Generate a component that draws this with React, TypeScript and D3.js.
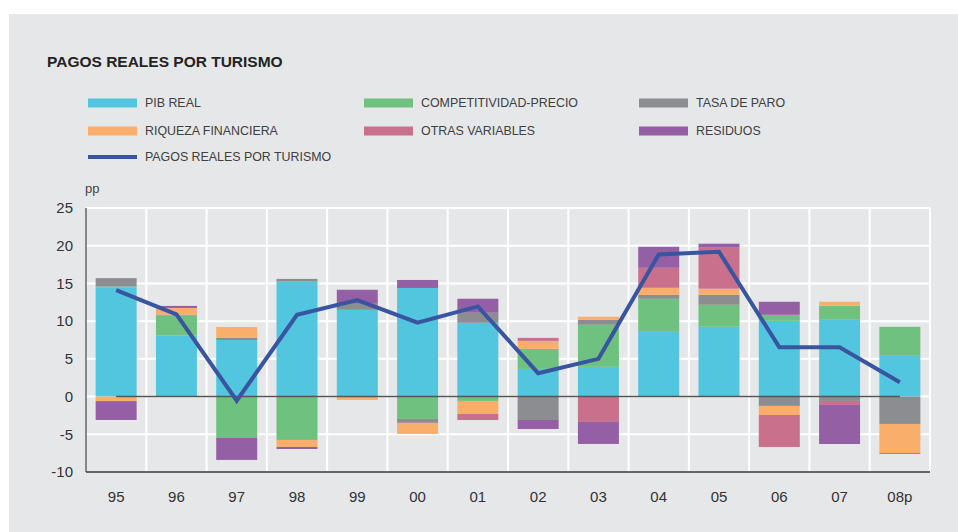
import React from "react";
import * as d3 from "d3";

const years = ["95", "96", "97", "98", "99", "00", "01", "02", "03", "04", "05", "06", "07", "08p"];

// contributions (pp)
const pibReal = [14.5, 8.1, 7.5, 15.25, 11.5, 14.4, 9.78, 3.67, 3.94, 8.58, 9.25, 10.04, 10.18, 5.4];
const competitividad = [0.1, 2.65, -5.45, -5.75, 0, -2.96, -0.58, 2.65, 5.58, 4.38, 2.92, 0.8, 1.86, 3.85];
const tasaParo = [1.1, 0.1, 0.27, 0.35, 0.8, -0.53, 1.33, -3.1, 0.66, 0.53, 1.33, -1.24, -0.58, -3.63];
const riqueza = [-0.6, 0.9, 1.45, -0.93, -0.44, -1.46, -1.73, 1.06, 0.4, 0.93, 0.8, -1.2, 0.53, -3.85];
const otras = [0, 0, 0, 0, 0, 0, -0.8, 0.4, -3.36, 2.65, 5.44, -4.25, -0.53, -0.13];
const residuos = [-2.5, 0.27, -2.95, -0.27, 1.86, 1.06, 1.86, -1.2, -2.92, 2.79, 0.53, 1.73, -5.18, 0];
const pagos = [14.1, 10.9, -0.55, 10.85, 12.8, 9.8, 11.95, 3.1, 5.0, 18.85, 19.2, 6.55, 6.55, 1.9];

const yTicks = [25, 20, 15, 10, 5, 0, -5, -10];

const series = [
  { key: "pib", label: "PIB REAL", color: "#52c5df", values: pibReal },
  { key: "comp", label: "COMPETITIVIDAD-PRECIO", color: "#6fc17f", values: competitividad },
  { key: "paro", label: "TASA DE PARO", color: "#8c8d91", values: tasaParo },
  { key: "riq", label: "RIQUEZA FINANCIERA", color: "#f9ae6b", values: riqueza },
  { key: "otras", label: "OTRAS VARIABLES", color: "#c8708c", values: otras },
  { key: "res", label: "RESIDUOS", color: "#955fa6", values: residuos },
];

const W = 958;
const H = 532;
const font = "'Liberation Sans', Arial, Helvetica, sans-serif";

export default function App() {
  const left = 86, right = 930, top = 208, bottom = 472;

  const x = d3.scaleBand<string>().domain(years).range([left, right]).paddingInner(0.32).paddingOuter(0.16);
  const y = d3.scaleLinear().domain([-10, 25]).range([bottom, top]);
  const step = x.step();

  const rows = years.map((yr, i) => {
    const r: any = { year: yr };
    series.forEach(s => (r[s.key] = s.values[i]));
    return r;
  });
  const stacked = d3.stack<any>()
    .keys(series.map(s => s.key))
    .offset(d3.stackOffsetDiverging)(rows);

  const lineGen = d3.line<number>()
    .x((_, i) => (x(years[i]) as number) + x.bandwidth() / 2)
    .y(d => y(d));

  const center = (yr: string) => (x(yr) as number) + x.bandwidth() / 2;

  // legend layout
  const legCols = [88, 364, 639];
  const legRows = [103, 131];

  return (
    <div style={{ position: "absolute", left: 0, top: 0, width: W, height: H, background: "#fff" }}>
      <svg width={W} height={H} style={{ display: "block", fontFamily: font }}>
        <rect x={9} y={14} width={W - 9} height={H - 14} fill="#e6e7e9" />
        <text x={47} y={67} fontSize={15.5} fontWeight="bold" fill="#232323">PAGOS REALES POR TURISMO</text>

        {series.map((s, i) => {
          const cx = legCols[i % 3];
          const cy = legRows[Math.floor(i / 3)];
          return (
            <g key={s.key}>
              <rect x={cx} y={cy - 4.5} width={49} height={9} fill={s.color} />
              <text x={cx + 57} y={cy} dy="0.35em" fontSize={12.4} fill="#404040">{s.label}</text>
            </g>
          );
        })}
        <line x1={88} x2={137} y1={157} y2={157} stroke="#3a55a0" strokeWidth={4} />
        <text x={145} y={157} dy="0.35em" fontSize={12.4} fill="#404040">PAGOS REALES POR TURISMO</text>

        <text x={85} y={193} fontSize={13} fill="#444">pp</text>

        {/* grid */}
        {yTicks.map(t => (
          <line key={"h" + t} x1={left} x2={right} y1={y(t)} y2={y(t)} stroke="#fff" strokeWidth={2} />
        ))}
        {years.map((yr, i) => (
          <line key={"v" + yr} x1={left + (i + 1) * step} x2={left + (i + 1) * step} y1={top} y2={bottom} stroke="#fff" strokeWidth={2} />
        ))}

        {/* bars */}
        {stacked.map((layer, li) => (
          <g key={layer.key} fill={series[li].color}>
            {layer.map((d, i) => {
              const h = Math.abs(y(d[0]) - y(d[1]));
              if (h < 0.01) return null;
              return (
                <rect key={i} x={x(years[i])} width={x.bandwidth()}
                  y={Math.min(y(d[0]), y(d[1]))} height={h} />
              );
            })}
          </g>
        ))}

        {/* zero line */}
        <line x1={center(years[0])} x2={center(years[years.length - 1])} y1={y(0)} y2={y(0)} stroke="#555" strokeWidth={1.5} />

        {/* axes */}
        <line x1={left} x2={left} y1={top} y2={bottom} stroke="#666" strokeWidth={1.5} />
        <line x1={left} x2={right} y1={bottom} y2={bottom} stroke="#333" strokeWidth={1.5} />
        {yTicks.map(t => (
          <text key={"yt" + t} x={73} y={y(t)} dy="0.35em" textAnchor="end" fontSize={15} fill="#333">{t}</text>
        ))}
        {years.map(yr => (
          <text key={"xt" + yr} x={center(yr)} y={497} dy="0.35em" textAnchor="middle" fontSize={15} fill="#333">{yr}</text>
        ))}

        <path d={lineGen(pagos) || ""} fill="none" stroke="#3a55a0" strokeWidth={4} strokeLinejoin="miter" />
      </svg>
    </div>
  );
}
